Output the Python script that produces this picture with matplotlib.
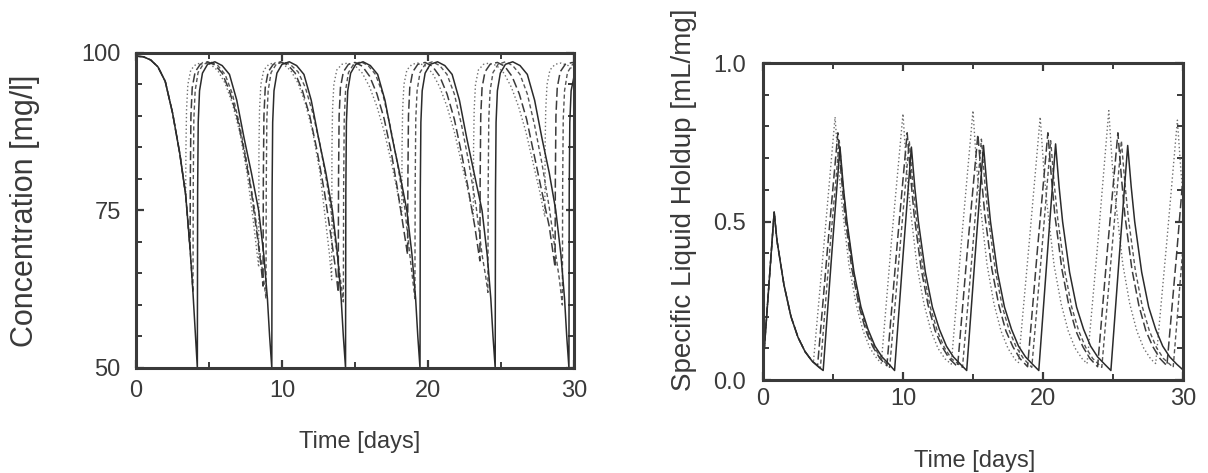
#import modules needed
import matplotlib.pyplot as plt
from matplotlib.ticker import MultipleLocator

plt.rcParams['font.family'] = ['Liberation Sans', 'DejaVu Sans']

# ---- concentration data [mg/l] vs time [days] ----
t_c_solid = [0, 0.5, 1.0, 1.5, 2.0, 2.5, 3.0, 3.4, 3.7, 3.9, 4.05, 4.2,
             4.22, 4.26, 4.35, 4.55, 4.9, 5.4, 5.9, 6.4, 6.9, 7.4, 7.9, 8.4, 8.75, 9.0, 9.15, 9.3,
             9.32, 9.36, 9.45, 9.65, 10.0, 10.5, 11.0, 11.5, 12.0, 12.5, 13.0, 13.45, 13.8, 14.05, 14.2, 14.35,
             14.37, 14.41, 14.5, 14.7, 15.05, 15.55, 16.05, 16.55, 17.05, 17.55, 18.05, 18.55, 18.9, 19.15, 19.3, 19.45,
             19.47, 19.51, 19.6, 19.8, 20.15, 20.65, 21.15, 21.65, 22.15, 22.65, 23.15, 23.7, 24.05, 24.3, 24.45, 24.6,
             24.62, 24.66, 24.75, 24.95, 25.3, 25.8, 26.3, 26.8, 27.3, 27.8, 28.3, 28.75, 29.1, 29.35, 29.5, 29.65,
             29.67, 29.71, 29.8, 30.0]
c_solid = [99.5, 99.4, 98.9, 97.8, 95.5, 90.5, 84.0, 77.5, 69.0, 62.0, 56.0, 50.0,
           78, 89, 94, 96.8, 98.2, 98.6, 98.0, 96.6, 92.5, 86.5, 81, 75, 68, 61, 55, 50,
           78, 89, 94, 96.8, 98.2, 98.6, 98.0, 96.6, 92.5, 86.5, 81, 75, 68, 61, 55, 50,
           78, 89, 94, 96.8, 98.2, 98.6, 98.0, 96.6, 92.5, 86.5, 81, 75, 68, 61, 55, 50,
           78, 89, 94, 96.8, 98.2, 98.6, 98.0, 96.6, 92.5, 86.5, 81, 75, 68, 61, 55, 50,
           78, 89, 94, 96.8, 98.2, 98.6, 98.0, 96.6, 92.5, 86.5, 81, 75, 68, 61, 55, 50,
           78, 89, 94, 96.3]

t_c_dash = [0, 0.5, 1.0, 1.5, 2.0, 2.5, 3.0, 3.4, 3.7,
            3.72, 3.76, 3.85, 4.05, 4.4, 4.9, 5.4, 5.9, 6.4, 6.9, 7.4, 7.9, 8.3, 8.55, 8.7,
            8.72, 8.76, 8.85, 9.05, 9.4, 9.9, 10.4, 10.9, 11.4, 11.9, 12.4, 12.9, 13.35, 13.65, 13.85,
            13.87, 13.91, 14.0, 14.2, 14.55, 15.0, 15.5, 16.0, 16.5, 17.0, 17.5, 17.9, 18.3, 18.6,
            18.62, 18.66, 18.75, 18.95, 19.3, 19.8, 20.3, 20.8, 21.3, 21.8, 22.3, 22.75, 23.2, 23.55,
            23.57, 23.61, 23.7, 23.9, 24.25, 24.75, 25.25, 25.75, 26.25, 26.75, 27.25, 27.75, 28.3, 28.7,
            28.72, 28.76, 28.85, 29.05, 29.4, 29.9, 30.0]
c_dash = [99.5, 99.4, 98.9, 97.8, 95.5, 90.5, 84.0, 77.5, 69.0,
          80, 90, 94.5, 97, 98.2, 98.6, 98.1, 96.8, 94, 90, 84.5, 78, 71, 66.5, 63,
          80, 90, 94.5, 97, 98.2, 98.6, 98.1, 96.8, 94, 90, 84.5, 78, 71, 66, 62,
          80, 90, 94.5, 97, 98.2, 98.5, 97.9, 96.3, 93.5, 89.5, 84, 78.5, 72.5, 68,
          80, 90, 94.5, 97, 98.2, 98.5, 97.9, 96.3, 93.5, 89.5, 84, 78.5, 72.5, 67,
          80, 90, 94.5, 97, 98.2, 98.5, 97.9, 96.3, 93.5, 89.5, 84, 78.5, 72.5, 66,
          80, 90, 94.5, 97, 98.2, 98.5, 98.4]

t_c_short = [0, 0.5, 1.0, 1.5, 2.0, 2.5, 3.0, 3.4, 3.7, 3.9,
             3.92, 3.96, 4.05, 4.25, 4.6, 5.1, 5.6, 6.1, 6.6, 7.1, 7.6, 8.1, 8.5, 8.75, 8.9,
             8.92, 8.96, 9.05, 9.25, 9.6, 10.1, 10.6, 11.1, 11.6, 12.1, 12.6, 13.1, 13.6, 13.95, 14.2,
             14.22, 14.26, 14.35, 14.55, 14.9, 15.4, 15.9, 16.4, 16.9, 17.4, 17.9, 18.4, 18.75, 18.95, 19.1,
             19.12, 19.16, 19.25, 19.45, 19.8, 20.3, 20.8, 21.3, 21.8, 22.3, 22.8, 23.3, 23.7, 23.95, 24.1,
             24.12, 24.16, 24.25, 24.45, 24.8, 25.3, 25.8, 26.3, 26.8, 27.3, 27.8, 28.3, 28.75, 29.0, 29.2,
             29.22, 29.26, 29.35, 29.55, 29.9, 30.0]
c_short = [99.5, 99.4, 98.9, 97.8, 95.5, 90.5, 84.0, 77.5, 69.0, 62.0,
           79, 89.5, 94, 96.9, 98.2, 98.6, 98.0, 96.6, 93.5, 88.5, 82.5, 75.5, 68, 64, 61,
           79, 89.5, 94, 96.9, 98.2, 98.6, 98.1, 97.0, 94.5, 90.5, 85.5, 79, 71, 65, 60.5,
           79, 89.5, 94, 96.9, 98.2, 98.6, 98.0, 96.6, 93.5, 88.5, 82.5, 75.5, 68, 64, 61,
           79, 89.5, 94, 96.9, 98.2, 98.6, 98.0, 96.6, 93.5, 88.5, 82.5, 75.5, 68, 64.5, 62,
           79, 89.5, 94, 96.9, 98.2, 98.6, 98.0, 96.6, 93.5, 88.5, 82.5, 75.5, 68, 64, 60,
           79, 89.5, 94, 96.9, 98.2, 98.3]

t_c_dot = [0, 0.5, 1.0, 1.5, 2.0, 2.5, 3.0, 3.4,
           3.42, 3.46, 3.55, 3.75, 4.1, 4.6, 5.1, 5.6, 6.1, 6.6, 7.1, 7.6, 8.0, 8.25, 8.4,
           8.42, 8.46, 8.55, 8.75, 9.1, 9.6, 10.1, 10.6, 11.1, 11.6, 12.1, 12.6, 13.0, 13.25, 13.4,
           13.42, 13.46, 13.55, 13.75, 14.1, 14.5, 15.0, 15.5, 16.0, 16.5, 17.0, 17.5, 17.9, 18.2,
           18.22, 18.26, 18.35, 18.55, 18.9, 19.3, 19.8, 20.3, 20.8, 21.3, 21.8, 22.3, 22.75, 23.1,
           23.12, 23.16, 23.25, 23.45, 23.8, 24.2, 24.7, 25.2, 25.7, 26.2, 26.7, 27.2, 27.65, 28.0,
           28.02, 28.06, 28.15, 28.35, 28.7, 29.1, 29.6, 30.0]
c_dot = [99.5, 99.4, 98.9, 97.8, 95.5, 90.5, 84.0, 77.5,
         85, 91, 95, 97.3, 98.2, 98.5, 98.2, 97.2, 95.2, 92, 87.5, 81, 74, 69, 66,
         85, 91, 95, 97.3, 98.2, 98.5, 98.2, 97.2, 95.2, 92, 87.5, 81, 73, 68, 64,
         85, 91, 95, 97.3, 98.2, 98.4, 98.0, 96.8, 94.6, 91.5, 87.5, 82.5, 78, 74,
         85, 91, 95, 97.3, 98.2, 98.4, 98.0, 96.8, 94.6, 91.5, 87.5, 82.5, 78, 74,
         85, 91, 95, 97.3, 98.2, 98.4, 98.0, 96.8, 94.6, 91.5, 87.5, 82.5, 78, 74,
         85, 91, 95, 97.3, 98.2, 98.4, 98.0, 97.2]

# ---- specific liquid holdup data [mL/mg] vs time [days] ----
t_h_solid = [0, 0.8, 1.0, 1.5, 2.0, 2.5, 3.0, 3.5, 4.0, 4.3,
             4.9, 5.5, 5.75, 6.0, 6.5, 7.0, 7.5, 8.0, 8.5, 9.0, 9.4,
             10.0, 10.6, 10.85, 11.1, 11.6, 12.1, 12.6, 13.1, 13.6, 14.1, 14.55,
             15.15, 15.75, 16.0, 16.25, 16.75, 17.25, 17.75, 18.25, 18.75, 19.25, 19.7,
             20.3, 20.9, 21.15, 21.4, 21.9, 22.4, 22.9, 23.4, 23.9, 24.4, 24.85,
             25.45, 26.05, 26.3, 26.55, 27.05, 27.55, 28.05, 28.55, 29.05, 29.55, 30.0]
h_solid = [0.04, 0.53, 0.44, 0.30, 0.20, 0.135, 0.09, 0.06, 0.04, 0.03,
           0.39, 0.735, 0.605, 0.50, 0.34, 0.23, 0.16, 0.107, 0.073, 0.05, 0.03,
           0.39, 0.735, 0.605, 0.50, 0.34, 0.23, 0.16, 0.107, 0.073, 0.05, 0.03,
           0.39, 0.74, 0.61, 0.50, 0.34, 0.23, 0.16, 0.107, 0.073, 0.05, 0.03,
           0.39, 0.745, 0.61, 0.50, 0.34, 0.23, 0.16, 0.107, 0.073, 0.05, 0.03,
           0.39, 0.74, 0.61, 0.50, 0.34, 0.23, 0.16, 0.107, 0.073, 0.05, 0.032]

t_h_dash = [0, 0.8, 1.0, 1.5, 2.0, 2.5, 3.0, 3.5, 3.9,
            4.6, 5.35, 5.6, 5.85, 6.35, 6.85, 7.35, 7.85, 8.35, 8.85,
            9.55, 10.3, 10.55, 10.8, 11.3, 11.8, 12.3, 12.8, 13.3, 13.9,
            14.6, 15.35, 15.6, 15.85, 16.35, 16.85, 17.35, 17.85, 18.35, 18.9,
            19.6, 20.35, 20.6, 20.85, 21.35, 21.85, 22.35, 22.85, 23.35, 23.9,
            24.6, 25.35, 25.6, 25.85, 26.35, 26.85, 27.35, 27.85, 28.35, 28.85,
            29.55, 30.0]
h_dash = [0.04, 0.53, 0.44, 0.30, 0.20, 0.135, 0.09, 0.06, 0.045,
          0.41, 0.78, 0.64, 0.52, 0.35, 0.235, 0.155, 0.105, 0.068, 0.045,
          0.41, 0.78, 0.64, 0.52, 0.35, 0.235, 0.155, 0.105, 0.068, 0.042,
          0.41, 0.775, 0.64, 0.52, 0.35, 0.235, 0.155, 0.105, 0.068, 0.042,
          0.41, 0.78, 0.64, 0.52, 0.35, 0.235, 0.155, 0.105, 0.068, 0.042,
          0.41, 0.78, 0.64, 0.52, 0.35, 0.235, 0.155, 0.105, 0.068, 0.045,
          0.40, 0.64]

t_h_short = [0, 0.8, 1.0, 1.5, 2.0, 2.5, 3.0, 3.5, 4.1,
             4.75, 5.45, 5.7, 5.95, 6.45, 6.95, 7.45, 7.95, 8.45, 9.05,
             9.75, 10.45, 10.7, 10.95, 11.45, 11.95, 12.45, 12.95, 13.45, 14.25,
             14.95, 15.6, 15.85, 16.1, 16.6, 17.1, 17.6, 18.1, 18.6, 19.2,
             19.9, 20.55, 20.8, 21.05, 21.55, 22.05, 22.55, 23.05, 23.55, 24.2,
             24.9, 25.6, 25.85, 26.1, 26.6, 27.1, 27.6, 28.1, 28.6, 29.3,
             30.0]
h_short = [0.04, 0.53, 0.44, 0.30, 0.20, 0.135, 0.09, 0.06, 0.038,
           0.40, 0.755, 0.62, 0.51, 0.345, 0.23, 0.155, 0.103, 0.068, 0.04,
           0.40, 0.755, 0.62, 0.51, 0.345, 0.23, 0.155, 0.103, 0.068, 0.04,
           0.40, 0.76, 0.62, 0.51, 0.345, 0.23, 0.155, 0.103, 0.068, 0.04,
           0.40, 0.755, 0.62, 0.51, 0.345, 0.23, 0.155, 0.103, 0.068, 0.04,
           0.40, 0.755, 0.62, 0.51, 0.345, 0.23, 0.155, 0.103, 0.068, 0.04,
           0.42]

t_h_dot = [0, 0.8, 1.0, 1.5, 2.0, 2.5, 3.0, 3.6,
           4.4, 5.15, 5.4, 5.65, 6.15, 6.65, 7.15, 7.65, 8.15, 8.45,
           9.2, 10.0, 10.25, 10.5, 11.0, 11.5, 12.0, 12.5, 13.0, 13.45,
           14.2, 15.0, 15.25, 15.5, 16.0, 16.5, 17.0, 17.5, 18.0, 18.25,
           19.05, 19.8, 20.05, 20.3, 20.8, 21.3, 21.8, 22.3, 22.8, 23.15,
           23.95, 24.7, 24.95, 25.2, 25.7, 26.2, 26.7, 27.2, 27.7, 28.05,
           28.85, 29.6, 29.85, 30.0]
h_dot = [0.04, 0.53, 0.44, 0.30, 0.20, 0.135, 0.09, 0.055,
         0.45, 0.83, 0.67, 0.55, 0.36, 0.24, 0.155, 0.10, 0.067, 0.053,
         0.45, 0.84, 0.67, 0.55, 0.36, 0.24, 0.155, 0.10, 0.067, 0.05,
         0.45, 0.85, 0.68, 0.56, 0.365, 0.24, 0.155, 0.10, 0.065, 0.055,
         0.45, 0.83, 0.67, 0.55, 0.36, 0.24, 0.155, 0.10, 0.067, 0.052,
         0.45, 0.85, 0.68, 0.56, 0.365, 0.24, 0.155, 0.10, 0.066, 0.052,
         0.44, 0.82, 0.66, 0.59]

ink = '#3a3a3a'

#line styles for the four runs
styles = [dict(color='#2b2b2b', lw=1.1, ls='-'),
          dict(color='#3c3c3c', lw=1.1, dashes=(6, 2.5)),
          dict(color='#555555', lw=1.0, dashes=(3, 2)),
          dict(color='#707070', lw=1.0, dashes=(1, 1.8))]


def frame(ax):
    for s in ax.spines.values():
        s.set_linewidth(2.2)
        s.set_color(ink)
    ax.tick_params(which='both', direction='in', top=True, right=True,
                   colors=ink, labelcolor=ink, labelsize=17)
    ax.tick_params(which='major', length=6, width=1.6)
    ax.tick_params(which='minor', length=4, width=1.4)


fig = plt.figure(figsize=(12.08, 4.73), dpi=100)

#Plotting concentration
ax1 = fig.add_axes([0.1126, 0.222, 0.3626, 0.666])
ax1.plot(t_c_dot, c_dot, **styles[3])
ax1.plot(t_c_short, c_short, **styles[2])
ax1.plot(t_c_dash, c_dash, **styles[1])
ax1.plot(t_c_solid, c_solid, **styles[0])
ax1.set_xlim(0, 30)
ax1.set_ylim(50, 100)
ax1.xaxis.set_major_locator(MultipleLocator(10))
ax1.xaxis.set_minor_locator(MultipleLocator(5))
ax1.yaxis.set_major_locator(MultipleLocator(25))
ax1.yaxis.set_minor_locator(MultipleLocator(5))
frame(ax1)
ax1.tick_params(axis='x', pad=9)
ax1.tick_params(axis='y', pad=11)
ax1.set_xlabel('Time [days]', fontsize=17, color=ink)
ax1.set_ylabel('Concentration [mg/l]', fontsize=22, color=ink)
ax1.xaxis.set_label_coords(0.511, -0.2)
ax1.yaxis.set_label_coords(-0.219, 0.5)

#Plotting liquid holdup
ax2 = fig.add_axes([0.6316, 0.1966, 0.3477, 0.670])
ax2.plot(t_h_dot, h_dot, **styles[3])
ax2.plot(t_h_short, h_short, **styles[2])
ax2.plot(t_h_dash, h_dash, **styles[1])
ax2.plot(t_h_solid, h_solid, **styles[0])
ax2.set_xlim(0, 30)
ax2.set_ylim(0, 1.0)
ax2.xaxis.set_major_locator(MultipleLocator(10))
ax2.xaxis.set_minor_locator(MultipleLocator(5))
ax2.yaxis.set_major_locator(MultipleLocator(0.5))
ax2.yaxis.set_minor_locator(MultipleLocator(0.1))
ax2.yaxis.set_major_formatter('{x:.1f}')
frame(ax2)
ax2.tick_params(axis='x', pad=6)
ax2.tick_params(axis='y', pad=12)
ax2.set_xlabel('Time [days]', fontsize=17, color=ink)
ax2.set_ylabel('Specific Liquid Holdup [mL/mg]', fontsize=20, color=ink)
ax2.xaxis.set_label_coords(0.505, -0.22)
ax2.yaxis.set_label_coords(-0.157, 0.57)

plt.savefig('out.png', dpi=100)
